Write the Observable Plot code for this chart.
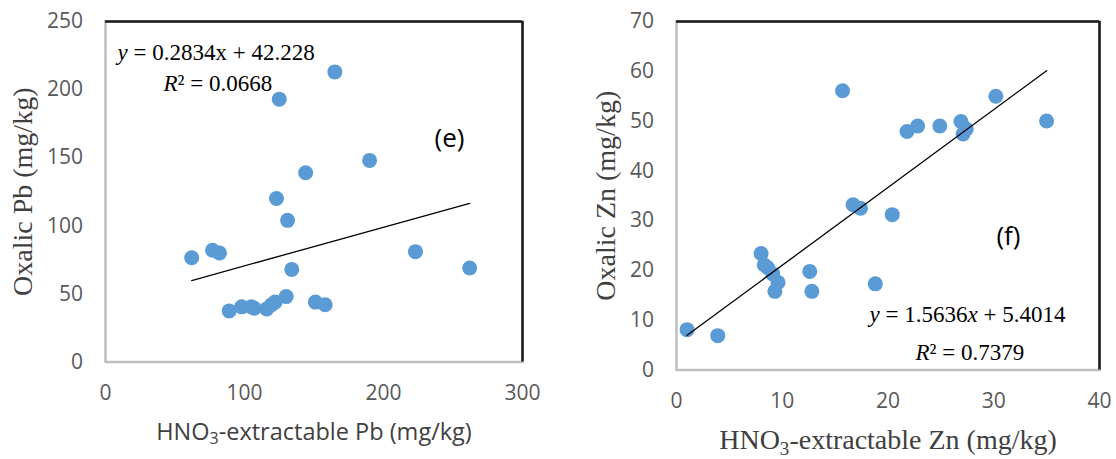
<!DOCTYPE html>
<html>
<head>
<meta charset="utf-8">
<script src="https://cdn.jsdelivr.net/npm/d3@7"></script>
<script src="https://cdn.jsdelivr.net/npm/@observablehq/plot@0.6"></script>
<style>
  html, body { margin: 0; padding: 0; background: #fff; }
  #wrap { position: relative; width: 1116px; height: 459px; overflow: hidden; }
  #wrap > svg { position: absolute; top: 0; }
</style>
</head>
<body>
<div id="wrap"></div>
<script>
// Panel (e): lead, HNO3-extractable vs oxalic-extractable (mg/kg)
const pbHNO3   = [62, 77, 82, 89, 98, 105, 107, 116, 119.5, 122, 123, 125, 130, 131, 134, 144, 151, 158, 165, 190, 223, 262];
const pbOxalic = [76.5, 82, 80, 37.5, 40.5, 40.5, 39.5, 39, 42, 44, 120, 193, 48, 104, 68, 139, 44, 42, 213, 148, 81, 69];
const pbXTicks = [0, 100, 200, 300];
const pbYTicks = [0, 50, 100, 150, 200, 250];
const pbSlope = 0.2834, pbIntercept = 42.228, pbR2 = "0.0668";

// Panel (f): zinc
const znHNO3   = [1, 3.9, 8, 8.3, 8.6, 9.1, 9.6, 9.3, 12.6, 12.8, 15.7, 16.7, 17.4, 18.8, 20.4, 21.8, 22.8, 24.9, 26.9, 27.1, 27.4, 30.2, 35];
const znOxalic = [8.1, 6.9, 23.4, 21.1, 20.6, 19.3, 17.6, 15.8, 19.8, 15.8, 56.1, 33.2, 32.5, 17.3, 31.2, 47.9, 49, 49, 49.9, 47.4, 48.4, 55, 50];
const znXTicks = [0, 10, 20, 30, 40];
const znYTicks = [0, 10, 20, 30, 40, 50, 60, 70];
const znSlope = 1.5636, znIntercept = 5.4014, znR2 = "0.7379";

const SANS = "'Open Sans', 'DejaVu Sans', sans-serif";
const SERIF = "'Liberation Serif', 'DejaVu Serif', serif";

function panel(cfg) {
  const pts = cfg.xs.map((x, i) => ({x, y: cfg.ys[i]}));
  const fit = d3.extent(cfg.xs).map(x => ({x, y: cfg.slope * x + cfg.intercept}));
  const eq = `y = ${cfg.slope}x + ${cfg.intercept}`;
  const r2 = `R² = ${cfg.r2}`;
  const textBase = {frameAnchor: "top-left", textAnchor: "start", lineAnchor: "middle", fontFamily: SERIF, fontSize: 23, fill: "#000"};
  return Plot.plot({
    width: 558,
    height: 459,
    marginLeft: cfg.m[0], marginRight: cfg.m[1], marginTop: cfg.m[2], marginBottom: cfg.m[3],
    x: {domain: cfg.xDomain},
    y: {domain: cfg.yDomain},
    style: {fontFamily: SANS, background: "transparent", overflow: "visible"},
    marks: [
      Plot.frame({stroke: "#bfbfbf", strokeWidth: 2.5}),
      Plot.ruleY([cfg.yDomain[1]], {stroke: "#1a1a1a", strokeWidth: 2.5}),
      Plot.ruleX([cfg.xDomain[1]], {stroke: "#1a1a1a", strokeWidth: 2.5}),
      Plot.axisX({ticks: cfg.xTicks, tickSize: 0, tickPadding: cfg.xPad, label: null, fontSize: 21, color: "#595959", fontFamily: SANS}),
      Plot.axisY({ticks: cfg.yTicks, tickSize: 0, tickPadding: 22.5, label: null, fontSize: 21, color: "#595959", fontFamily: SANS}),
      Plot.dot(pts, {x: "x", y: "y", r: 7.5, fill: "#5b9bd5"}),
      Plot.line(fit, {x: "x", y: "y", stroke: "#000", strokeWidth: 1.3}),
      Plot.text([eq], {...textBase, dx: cfg.eqPos[0], dy: cfg.eqPos[1]}),
      Plot.text([r2], {...textBase, dx: cfg.r2Pos[0], dy: cfg.r2Pos[1]}),
      Plot.text([cfg.tag], {frameAnchor: "top-left", textAnchor: "middle", lineAnchor: "middle", dx: cfg.tagPos[0], dy: cfg.tagPos[1], fontFamily: SANS, fontSize: 26, fill: "#000"}),
      Plot.text([cfg.yLabel], {frameAnchor: "left", textAnchor: "middle", lineAnchor: "middle", rotate: -90, dx: cfg.yLabelDx, fontFamily: SERIF, fontSize: 28, fill: "#404040"}),
      Plot.text([cfg.xLabel], {frameAnchor: "bottom", textAnchor: "middle", lineAnchor: "middle", dy: cfg.xLabelDy, fontFamily: cfg.xLabelFont, fontSize: cfg.xLabelSize, fill: "#404040"})
    ]
  });
}

// Rich text: italic variables, real subscripts
const NS = "http://www.w3.org/2000/svg";
function span(parent, str, attrs = {}) {
  const t = document.createElementNS(NS, "tspan");
  for (const [k, v] of Object.entries(attrs)) t.setAttribute(k, v);
  t.textContent = str;
  parent.appendChild(t);
}
function richText(svg, italicX) {
  svg.querySelectorAll("text").forEach(el => {
    const s = el.textContent;
    if (s.startsWith("y = ")) {
      const m = s.match(/^y = ([\d.]+)x( \+ [\d.]+)$/);
      el.textContent = "";
      span(el, "y", {"font-style": "italic"});
      span(el, " = " + m[1]);
      span(el, "x", italicX ? {"font-style": "italic"} : {});
      span(el, m[2]);
    } else if (s.startsWith("R² = ")) {
      el.textContent = "";
      span(el, "R", {"font-style": "italic"});
      span(el, s.slice(1));
    } else if (s.includes("₃")) {
      const [a, b] = s.split("₃");
      const size = parseFloat(getComputedStyle(el).fontSize) || 24;
      el.textContent = "";
      span(el, a);
      span(el, "3", {"dy": (0.2 * size) + "px", "font-size": (0.68 * size) + "px"});
      span(el, b, {"dy": (-0.2 * size) + "px"});
    }
  });
}

const left = panel({
  xs: pbHNO3, ys: pbOxalic, slope: pbSlope, intercept: pbIntercept, r2: pbR2,
  xDomain: [0, 300], yDomain: [0, 250], xTicks: pbXTicks, yTicks: pbYTicks,
  m: [105, 36, 21, 97.5], xPad: 23.5,
  eqPos: [12, 31], r2Pos: [58, 62.3], tag: "(e)", tagPos: [344, 117.5],
  yLabel: "Oxalic Pb (mg/kg)", yLabelDx: -82,
  xLabel: "HNO₃-extractable Pb (mg/kg)", xLabelDy: 70, xLabelFont: SANS, xLabelSize: 23.5
});
left.style.left = "0px";

const right = panel({
  xs: znHNO3, ys: znOxalic, slope: znSlope, intercept: znIntercept, r2: znR2,
  xDomain: [0, 40], yDomain: [0, 70], xTicks: znXTicks, yTicks: znYTicks,
  m: [118, 17, 21, 89.5], xPad: 23,
  eqPos: [193, 293.3], r2Pos: [239, 331], tag: "(f)", tagPos: [332, 215.5],
  yLabel: "Oxalic Zn (mg/kg)", yLabelDx: -70,
  xLabel: "HNO₃-extractable Zn (mg/kg)", xLabelDy: 70, xLabelFont: SERIF, xLabelSize: 28
});
right.style.left = "558px";

const wrap = document.getElementById("wrap");
wrap.appendChild(left);
wrap.appendChild(right);
richText(left, false);
richText(right, true);
</script>
</body>
</html>
